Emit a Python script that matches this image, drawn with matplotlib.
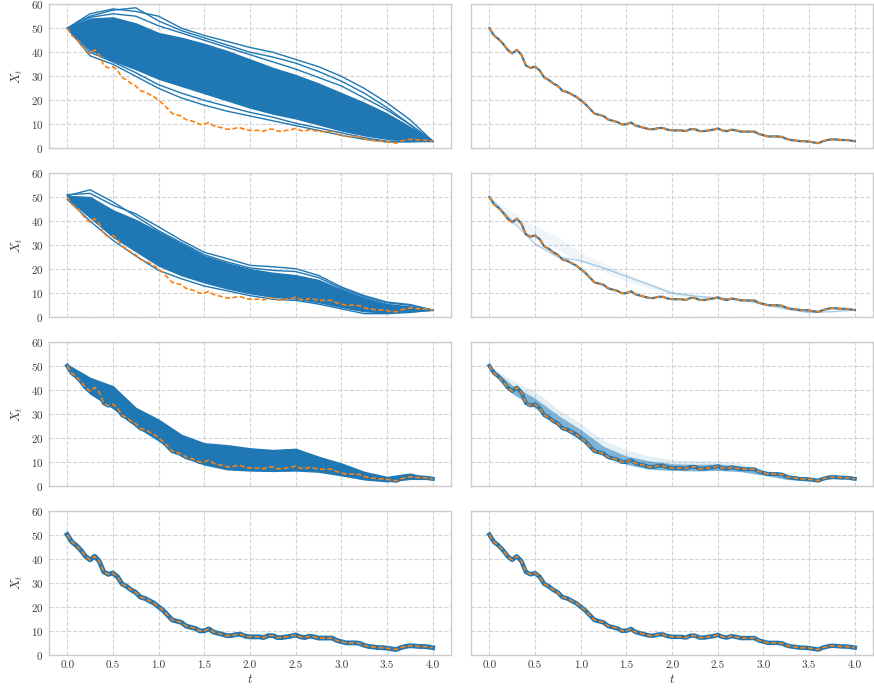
import numpy as np
import matplotlib
matplotlib.use("Agg")
import matplotlib.pyplot as plt

# reference path (orange), read every 0.05 in t
t_ref = np.linspace(0, 4, 81)
x_ref = [50, 47, 45.5, 43.5, 41, 39.5, 41, 39, 34.5, 33.5,
         34, 32.5, 29.5, 28.5, 27, 26, 24, 23.5, 22.5, 21.5,
         20, 18.5, 16.5, 14.5, 14, 13.5, 12, 11.5, 11, 10,
         10, 10.8, 9.5, 9, 8.5, 8, 8, 8.5, 8.5, 7.8,
         7.5, 7.5, 7.5, 7.2, 8, 8, 7.2, 7.2, 7.5, 7.8,
         8.3, 7.5, 7.2, 7.8, 7.5, 7, 7, 7, 7, 6,
         5.5, 5, 5, 5, 4.8, 4, 3.5, 3.3, 3, 3,
         2.8, 2.5, 2.2, 3, 3.5, 3.8, 3.7, 3.5, 3.5, 3.3, 3]

# coarse grid for the bundles of sampled paths
t_c = [0, 0.25, 0.5, 0.75, 1.0, 1.25, 1.5, 1.75, 2.0, 2.25,
       2.5, 2.75, 3.0, 3.25, 3.5, 3.75, 4.0]

# row 1, left
p1_hi = [50, 54, 54.5, 52, 48, 46, 43.5, 40.5, 37, 33.5, 30.5, 27, 23, 19, 14.5, 9, 3]
p1_lo = [50, 41, 36.5, 33, 29, 26, 23, 20, 17, 14.5, 12.5, 10, 7.5, 5.5, 4, 3.3, 3]
p1_paths = [
    [50, 56, 58, 57, 55, 50, 47, 44.5, 42, 40, 37, 34, 30, 25, 19, 12, 3],
    [50, 55, 57.5, 58.5, 53, 49, 46, 43, 40, 38, 35.5, 32, 28, 23, 17, 10, 3],
    [50, 54.5, 56, 55, 51, 48, 45, 42, 39, 36, 33, 29.5, 26, 21, 16, 10, 3],
    [50, 38.5, 35, 30, 25, 21, 18, 15.5, 13.5, 11.5, 9.5, 7.5, 5.5, 3.8, 2.7, 2.7, 3],
    [50, 40, 36, 31.5, 26.5, 23, 20, 17.5, 15, 13, 10.5, 8.5, 6.5, 4.5, 3, 3, 3],
]

# row 2, left
p2_hi = [50.5, 50, 44.5, 40.5, 35.5, 30.5, 25.5, 22.5, 20, 18.5, 17.5, 15.5, 11.5, 8, 5.5, 4.5, 3]
p2_lo = [49.5, 41.5, 33.5, 27.5, 21.5, 17.5, 14.5, 12, 10, 8.5, 7.8, 6.3, 4.3, 2.5, 2, 2.5, 3]
p2_paths = [
    [51, 51.5, 46.6, 43, 37.6, 32, 27, 24.4, 21.6, 21, 20.2, 17.4, 12.6, 9, 6.3, 5.3, 3],
    [50.5, 53, 48, 42, 36, 31, 26, 23, 20.5, 19.5, 19, 16.5, 12, 8.5, 6, 5, 3],
    [49, 40, 32, 25.5, 19.5, 16, 13, 11, 9, 7.5, 7, 5.5, 3.5, 1.5, 1.5, 2, 3],
]

# row 3, left
p3_hi = [50.5, 45, 41.5, 32.5, 27.6, 21.3, 17.8, 17, 15.7, 15, 15.5, 12.2, 9.4, 5.9, 3.8, 5.2, 3]
p3_lo = [49.5, 38.5, 32.5, 25, 19, 12.5, 9, 7, 6.5, 6.3, 6.5, 6, 4.5, 2.8, 2, 3, 3]

# row 2, right
p2r_hi = [50, 44, 38, 33.5, 27, 22.5, 18, 14.5, 11, 9.5, 8.5, 7.5, 6, 4, 3, 3.2, 3]
p2r_lo = [50, 40, 33, 28, 23, 19, 15, 12, 9, 8, 7.3, 7, 5, 3, 2, 2.5, 3]
p2r_path = [50, 40, 30.5, 25, 23.5, 20.5, 17, 13.5, 10, 8.8, 8, 7.3, 5.5, 3.5, 2, 2.3, 3]

# row 3, right
p3r_outer = [50, 44, 39.5, 32, 26, 19, 15, 12.5, 11, 10.5, 10.5, 9.5, 7, 4.5, 3.5, 4.5, 3]
p3r_inner = [50, 42, 36.5, 29.5, 23.5, 16.5, 12.5, 10.5, 9.3, 9, 9.2, 8.5, 6.2, 3.8, 3, 4, 3]
p3r_lo = [50, 38.5, 32.5, 25, 19, 12.5, 9, 7, 6.5, 6.3, 6.5, 6, 4.5, 2.8, 2, 3, 3]

blue = "#1f77b4"
orange = "#ff7f0e"

plt.rcParams.update({
    "font.family": ["cmr10"],
    "mathtext.fontset": "cm",
    "axes.formatter.use_mathtext": True,
    "axes.unicode_minus": False,
    "font.size": 8,
})

fig, axes = plt.subplots(4, 2, figsize=(8.74, 6.93), dpi=100, sharex=True, sharey=True)
fig.subplots_adjust(left=0.056, right=0.999, bottom=0.055, top=0.994, hspace=0.17, wspace=0.05)

# left column
ax = axes[0, 0]
ax.fill_between(t_c, p1_lo, p1_hi, color=blue, lw=1)
for p in p1_paths:
    ax.plot(t_c, p, color=blue, lw=1)

ax = axes[1, 0]
ax.fill_between(t_c, p2_lo, p2_hi, color=blue, lw=1)
for p in p2_paths:
    ax.plot(t_c, p, color=blue, lw=1)

ax = axes[2, 0]
ax.fill_between(t_c, p3_lo, p3_hi, color=blue, lw=1)
ax.plot(t_ref, x_ref, color=blue, lw=3)

axes[3, 0].plot(t_ref, x_ref, color=blue, lw=3.5)

# right column
axes[0, 1].plot(t_ref, x_ref, color=blue, lw=1.6)

ax = axes[1, 1]
ax.fill_between(t_c, p2r_lo, p2r_hi, color=blue, alpha=0.07, lw=0)
ax.plot(t_c, p2r_path, color=blue, lw=1, alpha=0.35)
ax.plot(t_ref, x_ref, color=blue, lw=1.6)

ax = axes[2, 1]
ax.fill_between(t_c, p3r_lo, p3r_outer, color=blue, alpha=0.12, lw=0)
ax.fill_between(t_c, p3r_lo, p3r_inner, color=blue, alpha=0.5, lw=0)
ax.plot(t_ref, x_ref, color=blue, lw=2.8)

axes[3, 1].plot(t_ref, x_ref, color=blue, lw=3.2)

for i in range(4):
    for j in range(2):
        ax = axes[i, j]
        ax.plot(t_ref, x_ref, color=orange, lw=1.2, ls="--", dashes=(3, 1.5))
        ax.set_xlim(-0.2, 4.2)
        ax.set_ylim(0, 60)
        ax.set_xticks(np.arange(0, 4.01, 0.5))
        ax.set_yticks(np.arange(0, 61, 10))
        ax.grid(True, ls="--", color="#d3d3d3", lw=0.8)
        ax.set_axisbelow(True)
        for s in ax.spines.values():
            s.set_color("#cccccc")
            s.set_linewidth(1.0)
        ax.tick_params(length=0, colors="#3a3a3a", labelsize=8, pad=4)
        ax.xaxis.set_major_formatter(plt.FuncFormatter(lambda v, _: f"{v:.1f}"))
    axes[i, 0].set_ylabel("$X_t$", fontsize=9, color="#3a3a3a")
for j in range(2):
    axes[3, j].set_xlabel("$t$", fontsize=9, color="#3a3a3a", labelpad=2)

fig.savefig("out.png", dpi=100)
